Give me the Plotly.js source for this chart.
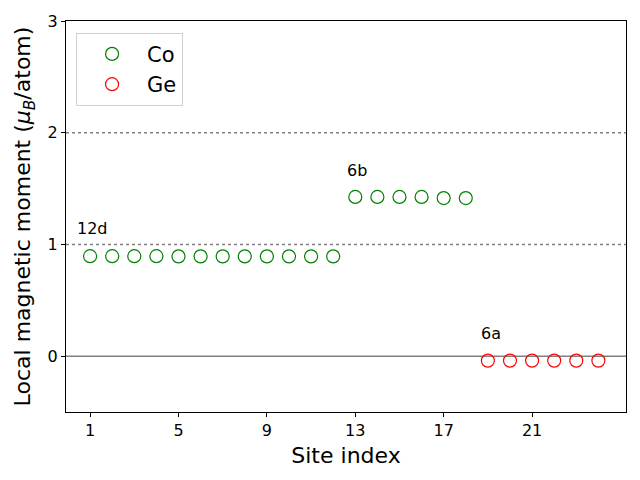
<!DOCTYPE html>
<html><head><meta charset="utf-8">
<script src="https://cdn.plot.ly/plotly-3.0.1.min.js"></script>
<style>body{margin:0;}#c{width:640px;height:480px;}</style>
</head><body><div id="c"></div>
<script>
const coSites = [1,2,3,4,5,6,7,8,9,10,11,12,13,14,15,16,17,18];
const coMoments = [0.895,0.895,0.895,0.895,0.893,0.893,0.893,0.893,0.893,0.893,0.893,0.893,1.425,1.425,1.425,1.425,1.415,1.415];
const geSites = [19,20,21,22,23,24];
const geMoments = [-0.04,-0.04,-0.04,-0.04,-0.04,-0.04];
const xTicks = [1,5,9,13,17,21];
const yTicks = [0,1,2,3];
const labels = [{t:'12d', x:0.3, y:1.14},{t:'6b', x:12.55, y:1.66},{t:'6a', x:18.6, y:0.2}];

const font = 'DejaVu Sans, sans-serif';
const mk = (c)=>({symbol:'circle-open', size:13, color:c, line:{width:1.2, color:c}});
const data = [
  {x:coSites, y:coMoments, mode:'markers', type:'scatter', name:'Co', marker:mk('green')},
  {x:geSites, y:geMoments, mode:'markers', type:'scatter', name:'Ge', marker:mk('red')}
];
const layout = {
  width:640, height:480,
  margin:{l:66, r:14, t:21, b:68},
  paper_bgcolor:'white', plot_bgcolor:'white',
  font:{family:font, color:'black'},
  showlegend:true,
  legend:{x:0.018, y:0.97, xanchor:'left', yanchor:'top', bgcolor:'rgba(255,255,255,0.8)', bordercolor:'#d0d0d0', borderwidth:1, font:{size:21, family:font}, itemwidth:60},
  xaxis:{range:[-0.09,25.25], tickvals:xTicks, ticktext:xTicks.map(String), ticks:'outside', ticklen:4, tickcolor:'black', showgrid:false, zeroline:false, showline:true, linecolor:'black', linewidth:1, mirror:true, tickfont:{size:16, family:font}, title:{text:'Site index', font:{size:22, family:font}, standoff:8}},
  yaxis:{range:[-0.5,3], tickvals:yTicks, ticks:'outside', ticklen:4, tickcolor:'black', showgrid:false, zeroline:false, showline:true, linecolor:'black', linewidth:1, mirror:true, tickfont:{size:16, family:font}, title:{text:'Local magnetic moment (<i>μ</i><sub><i>B</i></sub>/atom)', font:{size:22, family:font}, standoff:10}},
  shapes:[
    {type:'line', xref:'paper', x0:0, x1:1, yref:'y', y0:0, y1:0, line:{color:'gray', width:1.5}, layer:'below'},
    {type:'line', xref:'paper', x0:0, x1:1, yref:'y', y0:1, y1:1, line:{color:'gray', width:1.5, dash:'dot'}, layer:'below'},
    {type:'line', xref:'paper', x0:0, x1:1, yref:'y', y0:2, y1:2, line:{color:'gray', width:1.5, dash:'dot'}, layer:'below'}
  ],
  annotations: labels.map(l=>({x:l.x, y:l.y, text:l.t, showarrow:false, xanchor:'left', yanchor:'middle', font:{size:16, family:font}}))
};
Plotly.newPlot('c', data, layout, {displayModeBar:false});
</script></body></html>
